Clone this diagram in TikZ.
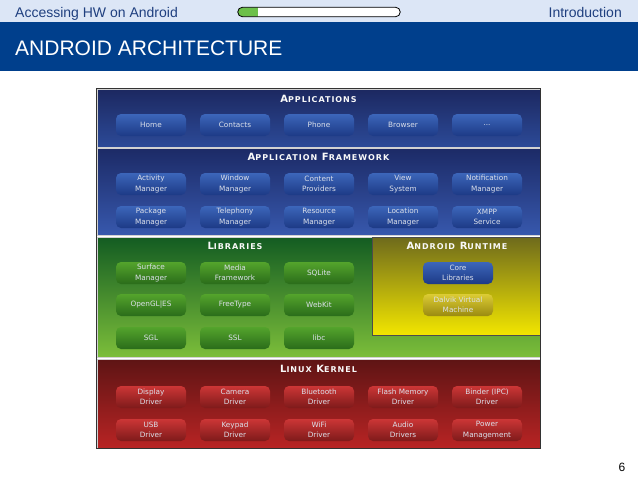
\documentclass[tikz,border=0pt]{standalone}
\usepackage{fontspec}
\setmainfont{Liberation Sans}
\newfontfamily\dejavu{DejaVu Sans}
\newfontfamily\dejavutitle[LetterSpace=12]{DejaVu Sans Bold}
\usetikzlibrary{shapes}

\definecolor{barlight}{HTML}{DCE6F6}
\definecolor{bandblue}{HTML}{003F8C}
\definecolor{headtext}{HTML}{1F3F7F}
\definecolor{progreen}{HTML}{6CC04A}
\definecolor{appstop}{HTML}{1C2860}
\definecolor{appsbot}{HTML}{2C4A98}
\definecolor{frametop}{HTML}{1C2A66}
\definecolor{framebot}{HTML}{3758AD}
\definecolor{bluetop}{HTML}{3C66BA}
\definecolor{bluebot}{HTML}{1D3A86}
\definecolor{libtop}{HTML}{135C22}
\definecolor{libbot}{HTML}{7CBE3A}
\definecolor{greentop}{HTML}{54A42C}
\definecolor{greenbot}{HTML}{2A6C1A}
\definecolor{runtop}{HTML}{6E6A1C}
\definecolor{runbot}{HTML}{F2E600}
\definecolor{yellowtop}{HTML}{DCCC34}
\definecolor{yellowbot}{HTML}{9A8A10}
\definecolor{kerneltop}{HTML}{5E1414}
\definecolor{kernelbot}{HTML}{B82424}
\definecolor{redtop}{HTML}{CC3636}
\definecolor{redbot}{HTML}{7E1A1A}
\definecolor{btntext}{HTML}{DCE0EA}

\newcommand{\lname}[2]{{\fontsize{10}{10}\selectfont #1}{\fontsize{8}{10}\selectfont #2}}

\begin{document}
\begin{tikzpicture}[x=1pt,y=-1pt]
    \tikzstyle{every node}=[inner sep=0pt]
    \tikzstyle{layer}=[rectangle, draw=gray!35, line width=0.8pt, minimum width=443, shading angle=0]
    \tikzstyle{ltitle}=[font=\dejavutitle, text=white!95!gray]
    \tikzstyle{btn}=[rectangle, rounded corners=5pt, minimum width=70, minimum height=22, align=center, font=\dejavu\fontsize{7.3}{10.5}\selectfont, text=btntext]
    \tikzstyle{bluebtn}=[btn, top color=bluetop, bottom color=bluebot]
    \tikzstyle{greenbtn}=[btn, top color=greentop, bottom color=greenbot]
    \tikzstyle{yellowbtn}=[btn, top color=yellowtop, bottom color=yellowbot]
    \tikzstyle{redbtn}=[btn, top color=redtop, bottom color=redbot]

    \useasboundingbox (0,0) rectangle (638,479);
    \fill[white] (0,0) rectangle (638,479);

    % slide header
    \node[rectangle, fill=barlight, minimum width=638, minimum height=22] (topbar) at (319,11) {};
    \node[rectangle, fill=bandblue, minimum width=638, minimum height=49] (band) at (319,46.5) {};
    \node[anchor=base west, text=headtext, font=\fontsize{14}{14}\selectfont] (talk) at (15,17) {Accessing HW on Android};
    \node[anchor=base east, text=headtext, font=\fontsize{14}{14}\selectfont] (section) at (622,17) {Introduction};
    \node[anchor=base west, text=white, font=\fontsize{21}{21}\selectfont] (title) at (15,55) {ANDROID ARCHITECTURE};
    \node[rectangle, minimum width=162, minimum height=9] (prog) at (319,12) {};
    \begin{scope}
        \clip[rounded corners=4.5pt] (prog.south west) rectangle (prog.north east);
        \fill[white] (prog.south west) rectangle (prog.north east);
        \fill[progreen] (prog.south west) rectangle ([xshift=20pt]prog.north west);
    \end{scope}
    \draw[rounded corners=4.5pt, line width=0.8pt] (prog.south west) rectangle (prog.north east);

    % layers
    \node[layer, minimum height=58, top color=appstop, bottom color=appsbot] (apps) at (318.5,118) {};
    \node[layer, minimum height=87, top color=frametop, bottom color=framebot] (frame) at (318.5,191.5) {};
    \node[layer, minimum height=120, top color=libtop, bottom color=libbot] (libs) at (318.5,297) {};
    \node[layer, draw=black!70, minimum width=168, minimum height=98, top color=runtop, bottom color=runbot] (runtime) at (456,286) {};
    \node[layer, minimum height=89, top color=kerneltop, bottom color=kernelbot] (kernel) at (318.5,403.5) {};
    \draw[black!80, line width=0.8pt] (apps.north west) rectangle (kernel.south east);

    % applications
    \node[ltitle] (appstitle) at (318.5,99) {\lname{A}{PPLICATIONS}};
    \node[bluebtn] (home) at (151,125) {Home};
    \node[bluebtn] (contacts) at (235,125) {Contacts};
    \node[bluebtn] (phone) at (319,125) {Phone};
    \node[bluebtn] (browser) at (403,125) {Browser};
    \node[bluebtn] (more) at (487,125) {...};

    % application framework
    \node[ltitle] (frametitle) at (318.5,157) {\lname{A}{PPLICATION} \lname{F}{RAMEWORK}};
    \node[bluebtn] (activity) at (151,184) {Activity\\Manager};
    \node[bluebtn] (window) at (235,184) {Window\\Manager};
    \node[bluebtn] (content) at (319,184) {Content\\Providers};
    \node[bluebtn] (view) at (403,184) {View\\System};
    \node[bluebtn] (notify) at (487,184) {Notification\\Manager};
    \node[bluebtn] (package) at (151,217) {Package\\Manager};
    \node[bluebtn] (telephony) at (235,217) {Telephony\\Manager};
    \node[bluebtn] (resource) at (319,217) {Resource\\Manager};
    \node[bluebtn] (location) at (403,217) {Location\\Manager};
    \node[bluebtn] (xmpp) at (487,217) {XMPP\\Service};

    % libraries
    \node[ltitle] (libstitle) at (235,246) {\lname{L}{IBRARIES}};
    \node[greenbtn] (surface) at (151,273) {Surface\\Manager};
    \node[greenbtn] (media) at (235,273) {Media\\Framework};
    \node[greenbtn] (sqlite) at (319,273) {SQLite};
    \node[greenbtn] (opengl) at (151,305) {OpenGL|ES};
    \node[greenbtn] (freetype) at (235,305) {FreeType};
    \node[greenbtn] (webkit) at (319,305) {WebKit};
    \node[greenbtn] (sgl) at (151,338) {SGL};
    \node[greenbtn] (ssl) at (235,338) {SSL};
    \node[greenbtn] (libc) at (319,338) {libc};

    % android runtime
    \node[ltitle] (runtitle) at (457,246) {\lname{A}{NDROID} \lname{R}{UNTIME}};
    \node[bluebtn] (core) at (458,273) {Core\\Libraries};
    \node[yellowbtn] (dalvik) at (458,305) {Dalvik Virtual\\Machine};

    % linux kernel
    \node[ltitle] (kerneltitle) at (318.5,369) {\lname{L}{INUX} \lname{K}{ERNEL}};
    \node[redbtn] (display) at (151,397) {Display\\Driver};
    \node[redbtn] (camera) at (235,397) {Camera\\Driver};
    \node[redbtn] (bluetooth) at (319,397) {Bluetooth\\Driver};
    \node[redbtn] (flash) at (403,397) {Flash Memory\\Driver};
    \node[redbtn] (binder) at (487,397) {Binder (IPC)\\Driver};
    \node[redbtn] (usb) at (151,430) {USB\\Driver};
    \node[redbtn] (keypad) at (235,430) {Keypad\\Driver};
    \node[redbtn] (wifi) at (319,430) {WiFi\\Driver};
    \node[redbtn] (audio) at (403,430) {Audio\\Drivers};
    \node[redbtn] (power) at (487,430) {Power\\Management};

    \node[font=\fontsize{12}{12}\selectfont] (page) at (622,467) {6};
\end{tikzpicture}
\end{document}
